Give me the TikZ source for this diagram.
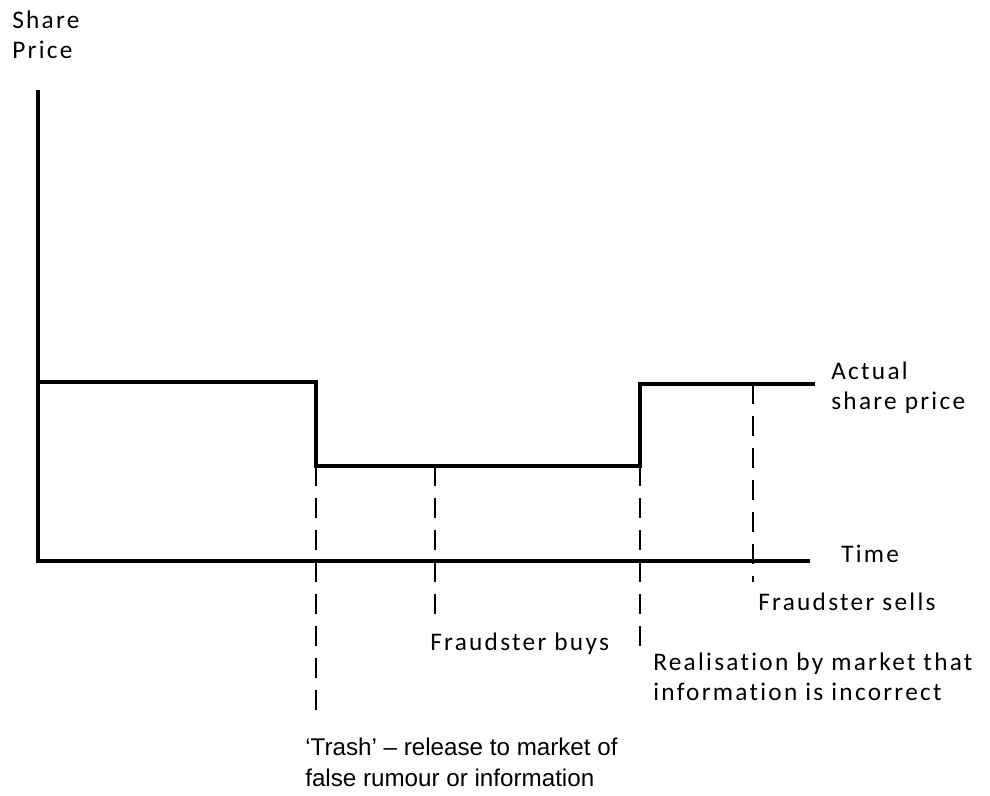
\documentclass[tikz,border=0pt]{standalone}
\usepackage{fontspec}
\setmainfont[LetterSpace=9,Ligatures={NoCommon}]{Carlito}
\newfontfamily\arialfont{Liberation Sans}
\usetikzlibrary{calc}

\begin{document}
\begin{tikzpicture}[x=0.025cm,y=-0.025cm,
	axis/.style={line width=2.2pt},
	price/.style={line width=2.2pt},
	guide/.style={line width=0.9pt,dash pattern=on 0.5cm off 0.3cm},
	lbl/.style={anchor=north west,inner sep=0pt,align=left,font=\fontsize{18}{21}\selectfont}]
	
	\useasboundingbox (0,0) rectangle (990,795);
	
	\coordinate (o) at (38,561);
	\coordinate (ytop) at (38,90);
	\coordinate (xend) at (810,561);
	
	\coordinate (a) at (38,382);
	\coordinate (b) at (316,382);
	\coordinate (c) at (316,466);
	\coordinate (d) at (640,466);
	\coordinate (e) at (640,382);
	\coordinate (f) at (815,384);
	
	\node[lbl] (yl) at (12,11) {Share\\Price};
	\node[lbl] (asp) at (831,362) {Actual\\share price};
	\node[lbl] (tl) at (841,545) {Time};
	\node[lbl] (sells) at (758,593) {Fraudster sells};
	\node[lbl] (buys) at (430,633) {Fraudster buys};
	\node[lbl] (real) at (653,653) {Realisation by market that\\information is incorrect};
	\node[lbl,font=\arialfont\fontsize{17.2}{21.5}\selectfont] (trash) at (305,738) {‘Trash’ – release to market of\\false rumour or information};
	
	\coordinate (t1) at (316,712);
	\coordinate (t2) at (435,625);
	\coordinate (t3) at (640,657);
	\coordinate (t4) at (753,582);
	\coordinate (s4) at (753,384);
	\coordinate (s2) at (435,466);
	
	\draw[axis] (ytop) -- (o) -- (xend);
	\draw[price,line join=miter] (a) -- (b) -- (c) -- (d) -- (e);
	\draw[price] ($(e)+(2,2)$) -- (f);
	
	\draw[guide] (c) -- (t1);
	\draw[guide] (s2) -- (t2);
	\draw[guide] (d) -- (t3);
	\draw[guide] (s4) -- (t4);
	
\end{tikzpicture}
\end{document}
